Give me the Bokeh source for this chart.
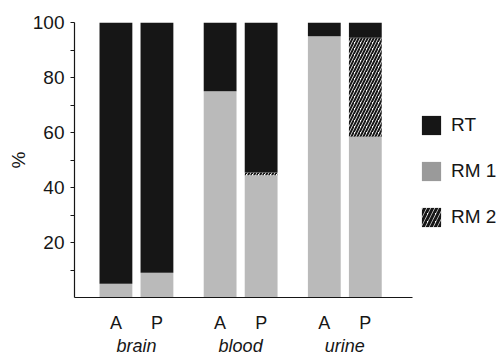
from bokeh.plotting import figure
from bokeh.models import ColumnDataSource, FixedTicker, Legend, LegendItem, LinearAxis, Range1d
from bokeh.embed import file_html
from bokeh.resources import INLINE

groups = ["brain", "blood", "urine"]
subs = ["A", "P"]
rm1 = [5, 9, 75, 44.5, 95, 58.5]
rm2 = [0, 0, 0, 1, 0, 36]
yticks = [20, 40, 60, 80, 100]
yminor = [10, 30, 50, 70, 90]

GROUP_PITCH = 2.54
xs = [gi * GROUP_PITCH + si for gi in range(len(groups)) for si in range(len(subs))]
xlab = [s for g in groups for s in subs]
gx = [gi * GROUP_PITCH + 0.5 * (len(subs) - 1) for gi in range(len(groups))]

rm2top = [a + b for a, b in zip(rm1, rm2)]
src = ColumnDataSource(dict(x=xs, rm1=rm1, rm2top=rm2top, top=[100] * len(xs)))

FONT = "Liberation Sans"
BLACK = "#161616"
GRAY = "#bababa"

p = figure(x_range=Range1d(-1.01, 7.23), y_range=Range1d(0, 100),
           frame_width=338, frame_height=275,
           output_backend="svg", toolbar_location=None,
           min_border_left=74, min_border_right=87, min_border_top=22,
           min_border_bottom=0, x_axis_type=None)
p.outline_line_color = None
p.grid.visible = False
p.background_fill_color = None
p.border_fill_color = None

w = 0.8
p.vbar(x="x", bottom=0, top="rm1", width=w, source=src, fill_color=GRAY, line_color=None)
p.vbar(x="x", bottom="rm1", top="rm2top", width=w, source=src, fill_color="white",
       line_color=None, hatch_pattern="/", hatch_color=BLACK, hatch_scale=6, hatch_weight=2)
p.vbar(x="x", bottom="rm2top", top="top", width=w, source=src, fill_color=BLACK, line_color=None)

# legend proxies (no visible data)
nan = float("nan")
e = ColumnDataSource(dict(x=[nan], t=[nan]))
r_rt = p.vbar(x="x", top="t", width=1, source=e, fill_color=BLACK, line_color=None)
r_rm1 = p.vbar(x="x", top="t", width=1, source=e, fill_color="#9a9a9a", line_color=None)
r_rm2 = p.vbar(x="x", top="t", width=1, source=e, fill_color="white", line_color=None,
               hatch_pattern="/", hatch_color=BLACK, hatch_scale=8, hatch_weight=3)
legend = Legend(items=[LegendItem(label="RT", renderers=[r_rt]),
                       LegendItem(label="RM 1", renderers=[r_rm1]),
                       LegendItem(label="RM 2", renderers=[r_rm2])],
                location=(7, 68), orientation="vertical")
legend.glyph_width = 24
legend.glyph_height = 24
legend.label_height = 24
legend.spacing = 22
legend.padding = 0
legend.margin = 0
legend.label_standoff = 8
legend.border_line_alpha = 0
legend.background_fill_alpha = 0
legend.label_text_font = FONT
legend.label_text_font_size = "19px"
legend.label_text_color = BLACK
p.add_layout(legend, "right")

ya = p.yaxis[0]
ya.ticker = FixedTicker(ticks=yticks, minor_ticks=yminor)
ya.major_tick_out = 4
ya.major_tick_in = 0
ya.minor_tick_out = 4
ya.minor_tick_in = 0
ya.major_label_standoff = 6
ya.major_label_text_font = FONT
ya.major_label_text_font_size = "19px"
ya.major_label_text_color = BLACK
ya.axis_line_color = BLACK
ya.axis_line_width = 1.2
ya.major_tick_line_color = BLACK
ya.minor_tick_line_color = BLACK
ya.axis_label = "%"
ya.axis_label_text_font = FONT
ya.axis_label_text_font_size = "19px"
ya.axis_label_text_font_style = "normal"
ya.axis_label_text_color = BLACK
ya.axis_label_standoff = 1

xa = LinearAxis(ticker=FixedTicker(ticks=xs),
                major_label_overrides={x: l for x, l in zip(xs, xlab)})
xa.major_tick_out = 0
xa.major_tick_in = 0
xa.minor_tick_out = 0
xa.minor_tick_in = 0
xa.major_label_standoff = 15
xa.major_label_text_font = FONT
xa.major_label_text_font_size = "18px"
xa.major_label_text_color = BLACK
xa.axis_line_color = BLACK
xa.axis_line_width = 1.2
p.add_layout(xa, "below")

ga = LinearAxis(ticker=FixedTicker(ticks=gx),
                major_label_overrides={x: g for x, g in zip(gx, groups)})
ga.major_tick_out = 0
ga.major_tick_in = 0
ga.minor_tick_out = 0
ga.minor_tick_in = 0
ga.axis_line_color = None
ga.major_label_standoff = 0
ga.major_label_text_font = FONT
ga.major_label_text_font_size = "18px"
ga.major_label_text_font_style = "italic"
ga.major_label_text_color = BLACK
p.add_layout(ga, "below")

open("out.html", "w").write(file_html(p, INLINE))
